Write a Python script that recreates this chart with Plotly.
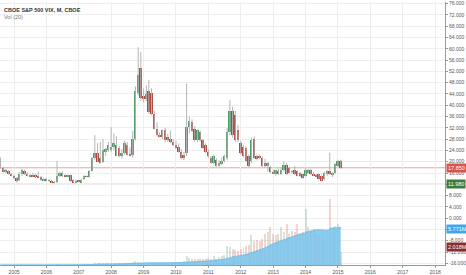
import plotly.graph_objects as go
import pandas as pd

# ---- data (monthly, Aug 2004 .. Feb 2015) ----
start_month = "2004-08-01"
opens = [20.3,17.6,16.4,16.6,15.6,
 15.0,14.3,13.4,15.5,16.7,15.8,14.8,15.3,15.2,14.9,14.6,13.4,
 14.0,13.2,13.3,12.8,12.7,14.9,16.0,15.2,14.9,15.2,13.4,12.7,
 13.1,12.8,13.8,14.9,14.6,16.8,21.2,23.0,21.3,20.0,23.5,24.2,
 24.2,25.3,25.9,24.8,21.9,23.0,26.0,22.5,22.5,28.2,44.4,53.1,
 43.3,42.1,45.0,44.4,36.9,31.7,29.4,28.8,31.1,28.8,28.2,27.1,
 25.9,25.3,23.6,22.5,23.0,32.3,34.0,31.7,27.6,30.5,27.6,25.9,
 23.6,21.3,19.5,20.7,18.8,19.5,20.2,21.3,30.5,38.1,36.5,31.1,
 26.5,25.3,24.8,21.9,20.1,28.2,21.9,21.9,21.3,19.5,18.4,18.0,
 16.4,15.5,16.8,15.6,17.0,18.96,17.8,16.4,17.2,16.6,16.1,15.5,
 14.9,16.1,17.0,15.5,15.3,15.5,14.9,13.75,15.5,16.6,15.5,16.1,
 18.4,20.1]
highs = [21.5,18.2,17.5,17.0,16.0,
 15.5,14.6,16.3,17.5,17.2,16.2,15.6,16.0,15.7,16.5,15.0,14.4,
 14.3,13.7,13.6,13.2,20.3,16.5,16.6,15.5,15.5,15.4,13.8,13.6,
 13.5,13.8,15.3,15.2,17.0,21.5,29.4,26.6,27.0,28.0,25.0,27.0,
 32.3,30.0,29.0,25.5,24.5,27.5,27.0,25.0,31.0,46.7,60.6,58.9,
 46.0,47.0,49.0,46.0,38.0,34.0,30.5,31.5,32.0,30.0,31.0,28.0,
 27.5,26.5,24.5,23.5,47.7,36.0,35.0,32.5,31.5,31.0,28.0,26.5,
 24.5,22.0,22.5,21.2,20.5,21.5,22.5,32.0,41.8,39.5,38.0,33.0,
 27.5,26.0,25.5,22.5,28.5,29.0,22.5,22.5,21.8,21.0,20.0,18.5,
 17.2,17.2,17.5,17.8,20.1,19.5,18.2,17.0,18.5,17.0,16.4,15.8,
 17.8,17.5,17.5,16.5,15.6,15.8,15.2,16.5,17.0,23.2,16.4,19.5,
 20.7,20.7]
lows = [17.5,16.2,15.9,15.4,14.9,
 13.9,12.6,13.1,15.0,15.3,14.8,14.4,14.6,14.2,14.4,13.3,13.1,
 12.9,12.8,12.5,12.3,12.5,14.5,14.6,14.7,14.6,12.8,12.6,12.4,
 12.7,12.6,13.5,14.4,14.3,16.5,20.5,19.8,19.3,19.5,22.0,23.5,
 23.5,24.0,21.9,21.5,21.0,22.5,22.2,21.8,21.5,27.5,43.5,41.5,
 41.0,41.5,37.0,36.5,31.5,29.0,28.5,28.0,27.0,27.0,26.5,25.5,
 24.5,23.2,21.0,20.5,22.0,30.0,30.5,27.0,27.0,27.2,24.5,23.0,
 21.3,19.3,19.0,18.2,18.2,18.8,19.8,20.5,29.5,28.5,27.0,27.0,
 22.5,21.5,20.0,18.0,19.5,21.0,20.5,20.8,18.2,17.8,16.5,16.0,
 15.6,15.0,15.3,15.2,16.5,15.3,15.8,15.8,15.3,14.8,14.6,14.0,
 14.6,15.8,15.3,14.9,14.5,13.6,13.0,13.3,15.0,15.3,14.6,15.8,
 18.0,17.5]
closes = [17.8,16.4,16.8,15.6,15.1,
 14.1,13.2,15.6,16.9,15.6,15.0,15.3,14.9,14.6,14.5,13.6,14.0,
 13.1,13.4,12.8,12.6,14.9,16.0,15.0,14.9,15.3,13.2,12.7,13.1,
 13.0,13.5,14.9,14.7,16.8,21.2,23.0,20.0,19.5,24.2,24.5,25.9,
 25.3,26.5,22.0,21.9,23.0,26.5,22.5,22.3,28.2,45.0,50.8,42.7,
 42.1,43.9,37.5,36.9,31.7,29.4,28.8,31.1,27.6,27.6,27.1,26.0,
 24.8,23.6,21.3,21.3,32.3,34.6,31.0,27.6,31.1,27.6,24.8,23.6,
 21.9,19.5,21.9,18.4,19.5,20.2,21.9,30.5,38.1,29.4,27.6,27.6,
 23.0,21.9,20.1,18.4,27.6,21.3,21.3,21.5,18.4,18.4,19.5,16.4,
 16.0,16.9,15.5,17.2,18.96,15.5,16.1,16.6,15.5,15.0,14.9,14.3,
 17.2,17.2,15.5,15.2,14.9,13.75,13.2,16.1,16.6,15.8,16.1,19.2,
 20.1,17.85]
volume_m = [0.02,0.02,0.03,0.02,0.02,
 0.03,0.03,0.04,0.04,0.03,0.03,0.03,0.03,0.04,0.05,0.04,0.04,
 0.05,0.05,0.06,0.05,0.10,0.08,0.07,0.06,0.07,0.07,0.06,0.06,
 0.08,0.10,0.15,0.10,0.10,0.15,0.30,0.35,0.25,0.25,0.30,0.25,
 0.35,0.30,0.35,0.25,0.25,0.30,0.35,0.30,0.50,0.70,0.50,0.40,
 0.35,0.40,0.40,0.35,0.35,0.30,0.30,0.35,0.35,0.40,0.40,0.35,
 0.45,0.50,0.50,0.60,1.50,1.10,0.90,1.00,0.90,0.90,1.00,0.90,
 1.10,1.00,1.40,1.00,1.20,1.40,1.60,3.00,2.80,2.60,2.40,2.20,
 2.60,2.80,3.00,3.20,4.80,3.80,4.00,3.80,4.20,5.00,5.20,6.00,
 5.0,4.8,5.0,6.0,5.2,6.5,5.0,5.5,5.2,6.5,5.0,5.2,
 9.0,6.0,5.5,5.8,5.0,4.8,5.2,5.0,5.5,10.5,6.0,6.2,
 6.5,2.018]

last_price = 17.85
ref_level = 11.98
ma_label = "5.771M"
vol_label = "2.018M"
title_text = "CBOE S&amp;P 500 VIX, M, CBOE"
vol_title = "Vol (20)"
year_ticks = [str(y) for y in range(2005, 2019)]
price_ticks = list(range(-16, 77, 4))
hidden_price_ticks = [12, -4]   # covered by the value tags

# ---- derived ----
dates = pd.date_range(start_month, periods=len(closes), freq="MS")
vol = pd.Series(volume_m) * 1e6
vol_ma = vol.rolling(20, min_periods=1).mean()

UP = "#4f9a68"
DN = "#b2473c"
WICK = "#b5b5b5"

up_idx = [i for i in range(len(closes)) if closes[i] >= opens[i]]
dn_idx = [i for i in range(len(closes)) if closes[i] < opens[i]]

day_ms = 86400000
bw = 22 * day_ms

fig = go.Figure()

# volume bars (faded)
for idx, col in ((up_idx, "rgba(79,154,104,0.25)"), (dn_idx, "rgba(210,84,66,0.25)")):
    fig.add_trace(go.Bar(
        x=[dates[i] for i in idx], y=[vol[i] for i in idx],
        marker=dict(color=col, line=dict(width=0)), width=bw,
        yaxis="y2", hoverinfo="skip", showlegend=False))

# MA area
fig.add_trace(go.Scatter(
    x=dates, y=vol_ma, yaxis="y2", mode="lines",
    line=dict(color="#6dbbe8", width=0.8, shape="hv"),
    fill="tozeroy", fillcolor="rgba(120,195,236,0.85)",
    hoverinfo="skip", showlegend=False))

# wicks
wx, wy = [], []
for i in range(len(closes)):
    wx += [dates[i], dates[i], None]
    wy += [lows[i], highs[i], None]
fig.add_trace(go.Scatter(x=wx, y=wy, mode="lines",
                         line=dict(color=WICK, width=1),
                         hoverinfo="skip", showlegend=False))

# bodies
for idx, col in ((up_idx, UP), (dn_idx, DN)):
    fig.add_trace(go.Bar(
        x=[dates[i] for i in idx],
        y=[max(abs(closes[i] - opens[i]), 0.2) for i in idx],
        base=[min(closes[i], opens[i]) for i in idx],
        marker=dict(color=col, line=dict(width=0)), width=bw,
        hoverinfo="skip", showlegend=False))

fig.add_shape(type="line", xref="paper", x0=0, x1=1, yref="y", y0=last_price, y1=last_price,
              line=dict(color="#eaa59f", width=1), layer="below")
fig.add_shape(type="line", xref="paper", x0=0, x1=1, yref="y", y0=ref_level, y1=ref_level,
              line=dict(color="#6f9c6f", width=1), layer="below")

FONT = "Liberation Sans, Arial, sans-serif"

def tag(y, text, bg, yref="y", yshift=0):
    fig.add_annotation(xref="paper", x=1, xanchor="left", xshift=1, yref=yref, y=y,
                       yanchor="middle", yshift=yshift, text=text, showarrow=False,
                       bgcolor=bg, borderpad=1,
                       font=dict(family=FONT, size=5.5, color="white"))

tag(last_price, f"{last_price:.3f}", "#d9534f")
tag(ref_level, f"{ref_level:.3f}", "#3d7a3d")
tag(vol_ma.iloc[-1], ma_label, "#3ea6f0", "y2")
tag(vol.iloc[-1], vol_label, "#8b2c2c", "y2", yshift=5)

fig.add_annotation(xref="paper", yref="paper", x=0, y=1, xanchor="left", yanchor="top",
                   xshift=2, yshift=-3, text="<b>" + title_text + "</b>", showarrow=False,
                   font=dict(family=FONT, size=5.5, color="#333333"))
fig.add_annotation(xref="paper", yref="paper", x=0, y=1, xanchor="left", yanchor="top",
                   xshift=2, yshift=-10, text=vol_title, showarrow=False,
                   font=dict(family=FONT, size=5.5, color="#777777"))

fig.update_layout(
    width=466, height=275, autosize=False,
    margin=dict(l=0, r=19, t=0, b=8),
    paper_bgcolor="white", plot_bgcolor="white",
    barmode="overlay", bargap=0, showlegend=False,
    font=dict(family=FONT, size=5, color="#555555"),
    xaxis=dict(type="date", range=["2004-07-27", "2018-04-22"],
               tickvals=[pd.Timestamp(f"{y}-01-01") for y in year_ticks], ticktext=year_ticks,
               showgrid=True, gridcolor="#eeeeee", gridwidth=1,
               showline=True, linecolor="#999999", linewidth=1,
               ticks="outside", ticklen=2, tickcolor="#999999",
               tickfont=dict(size=5, color="#555555"), zeroline=False, fixedrange=True),
    yaxis=dict(side="right", range=[-16.6, 76.6],
               tickvals=price_ticks,
               ticktext=["" if v in hidden_price_ticks else f"{v:.3f}" for v in price_ticks],
               ticklabeloverflow="allow",
               showgrid=True, gridcolor="#eeeeee", gridwidth=1,
               showline=True, linecolor="#999999", linewidth=1,
               ticks="outside", ticklen=2, tickcolor="#999999",
               tickfont=dict(size=5, color="#555555"), zeroline=False, fixedrange=True),
    yaxis2=dict(overlaying="y", range=[0, 42.0e6], visible=False, fixedrange=True),
)

fig.write_html("out.html")
